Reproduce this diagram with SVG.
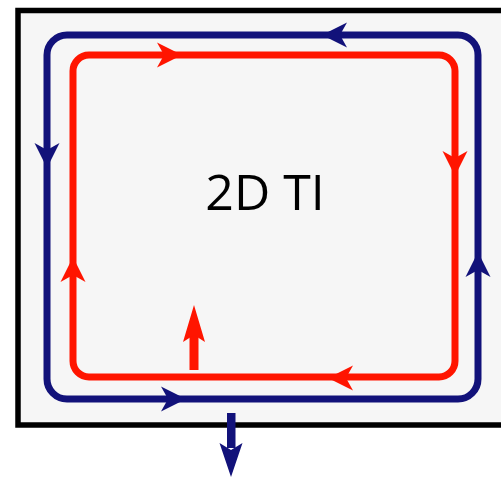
<svg xmlns="http://www.w3.org/2000/svg" width="501" height="477" viewBox="0 0 501 477">
  <style>
    .blue { stroke: #12127a; fill: none; stroke-width: 7; }
    .red { stroke: #ff1500; fill: none; stroke-width: 7; }
    .label { font-family: "Open Sans", "Liberation Sans", sans-serif; font-size: 50px; fill: #000; }
  </style>
  <defs>
    <!-- arrowhead pointing along +x, tip at origin -->
    <path id="head" d="M0,0 L-25,-12.5 L-18,0 L-25,12.5 Z"/>
  </defs>
  <rect width="501" height="477" fill="#ffffff"/>
  <!-- sample -->
  <g id="sample">
    <rect x="18" y="10.5" width="500" height="414.5" fill="#f6f6f6" stroke="#000" stroke-width="5.5"/>
    <text class="label" x="265" y="210" text-anchor="middle">2D TI</text>
  </g>
  <!-- edge channels -->
  <g id="edges">
    <rect id="outer-edge" class="blue" x="47" y="35" width="431" height="364" rx="20" ry="20"/>
    <rect id="inner-edge" class="red" x="73" y="55" width="382" height="322" rx="16" ry="16"/>
  </g>
  <g id="arrows">
    <use href="#head" fill="#ff1500" transform="translate(182,55)"/>
    <use href="#head" fill="#ff1500" transform="translate(455,176) rotate(90)"/>
    <use href="#head" fill="#ff1500" transform="translate(328,378) rotate(180)"/>
    <use href="#head" fill="#ff1500" transform="translate(73,257) rotate(-90)"/>
    <use href="#head" fill="#12127a" transform="translate(322,35) rotate(180)"/>
    <use href="#head" fill="#12127a" transform="translate(47,168) rotate(90)"/>
    <use href="#head" fill="#12127a" transform="translate(186,399)"/>
    <use href="#head" fill="#12127a" transform="translate(478,252) rotate(-90)"/>
    <!-- spin-up indicator -->
    <g id="spin-up" fill="#ff1500">
      <rect x="189.5" y="332" width="9" height="38"/>
      <path d="M194,305 L205,342 L194,335 L183,342 Z"/>
    </g>
    <!-- spin-down indicator -->
    <g id="spin-down" fill="#12127a">
      <rect x="227" y="413" width="8.5" height="35"/>
      <path d="M231,477 L219.5,443 L231,450 L242.5,443 Z"/>
    </g>
  </g>
</svg>
